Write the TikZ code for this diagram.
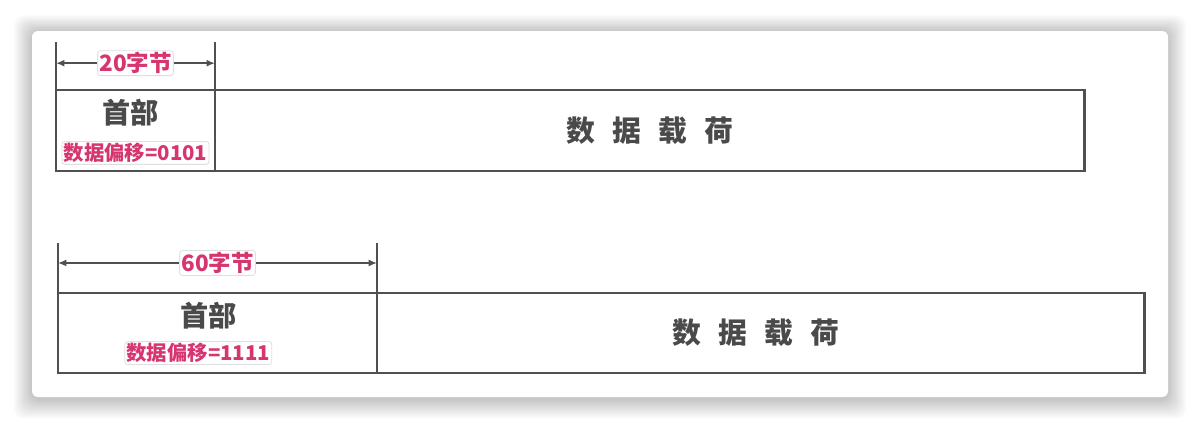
\documentclass[tikz,border=0pt]{standalone}
\usepackage{fontspec}
\usepackage{tikz}
\usetikzlibrary{positioning,arrows.meta}
\newfontfamily\cjk{Noto Sans CJK SC}
\definecolor{linegray}{HTML}{505050}
\definecolor{textgray}{HTML}{4A4A4A}
\definecolor{tagpink}{HTML}{D6356F}

\tikzset{
  field/.style={draw=linegray, line width=1.8pt, inner sep=0pt, outer sep=0pt},
  tick/.style={draw=linegray, line width=0.9pt},
  dimarrow/.style={draw=linegray, line width=1.5pt, {Latex[length=6pt,width=5pt]}-{Latex[length=6pt,width=5pt]}},
  tag/.style={font=\cjk\bfseries\fontsize{14.5}{16}\selectfont, text=tagpink, fill=white, draw=gray!25, line width=0.6pt, rounded corners=2pt, inner sep=1.2pt},
  lentag/.style={tag, font=\cjk\bfseries\fontsize{16}{18}\selectfont},
  hdrtitle/.style={font=\cjk\bfseries\fontsize{20}{22}\selectfont, text=textgray},
  datatitle/.style={font=\cjk\bfseries\fontsize{20.5}{22}\selectfont, text=textgray},
}

\begin{document}
\begin{tikzpicture}[x=0.025cm, y=-0.025cm]
\useasboundingbox (0,0) rectangle (1200,429);
% card with soft shadow
\fill[white] (0,0) rectangle (1200,429);
\foreach \i in {1,...,14}
  \fill[black, opacity=0.014, rounded corners=0.25cm] ({32-1.3*\i},{32-1.2*\i}) rectangle ({1168+1.3*\i},{399+1.4*\i});
\fill[white, rounded corners=0.15cm] (32,31) rectangle (1168,397);

% upper packet: 20 bytes header
\node[field, minimum width=3.975cm, minimum height=2.025cm] (hdrA) at (135.5,130.5) {};
\node[field, minimum width=21.725cm, minimum height=2.025cm, right=0pt of hdrA] (dataA) {};
\node[hdrtitle] (hdrAname) at ([xshift=-0.12cm,yshift=0.44cm]hdrA.center) {首部};
\node[tag] (hdrAoff) at ([yshift=-0.56cm]hdrA.center) {数据偏移=0101};
\node[datatitle] (dataAname) at (dataA.center) {数\hspace{0.6em}据\hspace{0.6em}载\hspace{0.6em}荷};
\draw[tick] (hdrA.north west) -- ++(0,-48);
\draw[tick] (hdrA.north east) -- ++(0,-48);
\draw[dimarrow] ([yshift=0.67cm]hdrA.north west) -- ([yshift=0.67cm]hdrA.north east)
  node[lentag, midway] (lenA) {20字节};

% lower packet: 60 bytes header
\node[field, minimum width=7.975cm, minimum height=2cm] (hdrB) at (217.5,333) {};
\node[field, minimum width=19.175cm, minimum height=2cm, right=0pt of hdrB] (dataB) {};
\node[hdrtitle] (hdrBname) at ([xshift=-0.23cm,yshift=0.43cm]hdrB.center) {首部};
\node[tag] (hdrBoff) at ([xshift=-0.48cm,yshift=-0.5cm]hdrB.center) {数据偏移=1111};
\node[datatitle] (dataBname) at ([xshift=-0.12cm]dataB.center) {数\hspace{0.6em}据\hspace{0.6em}载\hspace{0.6em}荷};
\draw[tick] (hdrB.north west) -- ++(0,-50);
\draw[tick] (hdrB.north east) -- ++(0,-50);
\draw[dimarrow] ([yshift=0.75cm]hdrB.north west) -- ([yshift=0.75cm]hdrB.north east)
  node[lentag, midway] (lenB) {60字节};

\end{tikzpicture}
\end{document}
